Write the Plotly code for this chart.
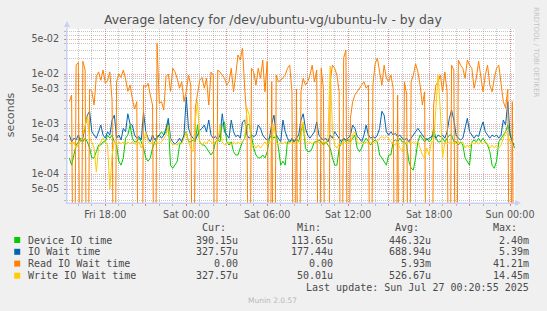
import plotly.graph_objects as go
from datetime import datetime, timedelta

# ---------------- data (seconds, 10-minute samples) ----------------
START = datetime(2025, 7, 25, 15, 20)
STEP_MINUTES = 10

device_io_time = [
    2.1e-4, 1.5e-4, 2.4e-4, 3.8e-4, 4.4e-4, 5.2e-4, 4.4e-4, 5.2e-4, 4.4e-4, 3.3e-4,
    2.1e-4, 2.1e-4, 2.8e-4, 3.8e-4, 3.8e-4, 4.4e-4, 4.4e-4, 6.0e-4, 5.2e-4, 6.0e-4,
    4.4e-4, 3.8e-4, 1.8e-4, 1.5e-4, 2.1e-4, 5.2e-4, 6.0e-4, 9.5e-4, 5.2e-4, 4.4e-4,
    4.4e-4, 5.2e-4, 4.4e-4, 3.3e-4, 2.1e-4, 1.8e-4, 2.1e-4, 3.3e-4, 4.4e-4, 5.2e-4,
    6.0e-4, 7.0e-4, 6.0e-4, 7.0e-4, 1.1e-3, 1.5e-4, 1.3e-4, 1.5e-4, 1.8e-4, 3.8e-4,
    4.4e-4, 6.0e-4, 7.0e-4, 4.4e-4, 4.4e-4, 4.8e-4, 4.4e-4, 9.5e-4, 4.4e-4, 3.8e-4,
    3.8e-4, 3.3e-4, 2.8e-4, 2.4e-4, 2.8e-4, 4.4e-4, 4.8e-4, 4.4e-4, 1.0e-3, 1.1e-3,
    4.4e-4, 3.8e-4, 4.4e-4, 2.8e-4, 2.4e-4, 2.4e-4, 3.3e-4, 4.4e-4, 5.2e-4, 9.5e-4,
    1.0e-3, 6.0e-4, 3.3e-4, 2.4e-4, 2.1e-4, 2.1e-4, 2.4e-4, 2.1e-4, 2.8e-4, 5.2e-4,
    6.0e-4, 5.2e-4, 6.0e-4, 3.3e-4, 1.5e-4, 1.8e-4, 1.5e-4, 4.4e-4, 4.4e-4, 4.8e-4,
    4.4e-4, 5.2e-4, 4.4e-4, 7.0e-4, 1.0e-3, 3.3e-4, 2.8e-4, 2.8e-4, 3.3e-4, 4.4e-4,
    4.4e-4, 4.8e-4, 4.4e-4, 3.8e-4, 4.4e-4, 3.8e-4, 3.3e-4, 2.1e-4, 1.5e-4, 1.5e-4,
    3.3e-4, 4.4e-4, 5.2e-4, 4.4e-4, 4.8e-4, 4.4e-4, 5.2e-4, 6.0e-4, 3.3e-4, 2.8e-4,
    3.3e-4, 4.4e-4, 5.2e-4, 4.4e-4, 3.8e-4, 4.4e-4, 4.8e-4, 4.4e-4, 2.4e-4, 2.1e-4,
    1.8e-4, 1.5e-4, 2.4e-4, 2.4e-4, 4.4e-4, 4.8e-4, 4.4e-4, 5.2e-4, 4.4e-4, 4.4e-4,
    3.8e-4, 1.8e-4, 1.3e-4, 1.2e-4, 2.1e-4, 4.4e-4, 6.0e-4, 5.2e-4, 4.4e-4, 5.2e-4,
    4.4e-4, 4.8e-4, 8.2e-4, 5.2e-4, 4.4e-4, 4.4e-4, 5.2e-4, 4.4e-4, 5.2e-4, 6.0e-4,
    6.0e-4, 4.4e-4, 4.4e-4, 3.8e-4, 4.4e-4, 3.8e-4, 2.1e-4, 1.8e-4, 1.5e-4, 4.4e-4,
    4.8e-4, 4.4e-4, 5.2e-4, 4.4e-4, 5.2e-4, 4.4e-4, 3.8e-4, 2.8e-4, 1.5e-4, 1.3e-4,
    1.8e-4, 4.4e-4, 5.2e-4, 6.0e-4, 7.0e-4, 9.5e-4, 6.0e-4, 4.4e-4, 3.9015e-4,
]

io_wait_time = [
    6.0e-4, 4.4e-4, 5.2e-4, 4.8e-4, 6.0e-4, 4.4e-4, 5.2e-4, 8.2e-4, 1.5e-3, 1.8e-3,
    7.0e-4, 6.0e-4, 5.2e-4, 7.0e-4, 9.5e-4, 6.0e-4, 5.2e-4, 7.0e-4, 6.0e-4, 1.2e-3,
    1.5e-3, 5.2e-4, 6.0e-4, 4.8e-4, 8.2e-4, 7.0e-4, 1.6e-3, 1.0e-3, 9.5e-4, 6.0e-4,
    5.2e-4, 5.6e-4, 4.8e-4, 1.7e-3, 7.0e-4, 5.2e-4, 4.4e-4, 6.0e-4, 4.8e-4, 5.6e-4,
    6.0e-4, 5.2e-4, 6.0e-4, 8.2e-4, 1.3e-3, 5.2e-4, 4.4e-4, 4.0e-4, 4.4e-4, 5.2e-4,
    4.4e-4, 6.0e-4, 3.5e-3, 8.2e-4, 6.0e-4, 5.2e-4, 4.8e-4, 6.0e-4, 7.5e-4, 8.2e-4,
    9.5e-4, 7.0e-4, 1.2e-3, 6.0e-4, 5.2e-4, 5.6e-4, 4.8e-4, 6.0e-4, 1.6e-3, 7.0e-4,
    6.0e-4, 5.2e-4, 1.2e-3, 7.0e-4, 5.6e-4, 6.0e-4, 5.2e-4, 1.1e-3, 1.2e-3, 6.0e-4,
    5.2e-4, 6.0e-4, 5.6e-4, 6.0e-4, 9.5e-4, 8.2e-4, 6.0e-4, 5.2e-4, 4.8e-4, 5.2e-4,
    1.0e-3, 1.5e-3, 6.0e-4, 5.2e-4, 4.4e-4, 1.2e-3, 7.0e-4, 5.2e-4, 4.4e-4, 5.2e-4,
    4.4e-4, 5.2e-4, 6.0e-4, 1.2e-3, 1.6e-3, 8.2e-4, 6.0e-4, 5.2e-4, 6.0e-4, 7.0e-4,
    1.1e-3, 6.0e-4, 5.2e-4, 4.8e-4, 5.2e-4, 4.4e-4, 6.0e-4, 5.2e-4, 7.0e-4, 6.0e-4,
    5.2e-4, 4.4e-4, 5.2e-4, 4.8e-4, 5.2e-4, 6.0e-4, 9.5e-4, 8.2e-4, 5.6e-4, 5.2e-4,
    4.4e-4, 6.0e-4, 9.5e-4, 6.0e-4, 5.2e-4, 5.6e-4, 5.2e-4, 6.0e-4, 8.2e-4, 1.8e-3,
    1.5e-3, 7.0e-4, 6.0e-4, 7.0e-4, 6.0e-4, 6.5e-4, 5.6e-4, 6.0e-4, 5.2e-4, 4.8e-4,
    5.2e-4, 4.4e-4, 5.2e-4, 6.0e-4, 7.0e-4, 8.2e-4, 7.0e-4, 6.0e-4, 5.2e-4, 4.8e-4,
    5.2e-4, 5.6e-4, 6.0e-4, 5.2e-4, 6.0e-4, 5.6e-4, 6.0e-4, 5.2e-4, 7.0e-4, 1.3e-3,
    1.9e-3, 1.2e-3, 6.0e-4, 5.2e-4, 4.8e-4, 5.2e-4, 8.2e-4, 1.3e-3, 7.0e-4, 6.0e-4,
    5.2e-4, 6.0e-4, 5.6e-4, 8.2e-4, 1.1e-3, 7.0e-4, 6.0e-4, 5.2e-4, 6.0e-4, 5.6e-4,
    6.0e-4, 5.2e-4, 6.0e-4, 1.2e-3, 9.5e-4, 2.8e-3, 6.0e-4, 4.4e-4, 3.2757e-4,
]

read_io_wait_time = [
    2.8e-3, 3.8e-3, 0, 1.5e-2, 1.7e-2, 0, 1.8e-2, 1.2e-2, 0, 5.0e-3,
    4.5e-3, 2.4e-3, 9.0e-3, 1.1e-2, 7.5e-3, 1.2e-2, 6.5e-3, 7.5e-3, 1.1e-2, 3.0e-3,
    0, 7.0e-3, 1.0e-2, 8.5e-3, 1.2e-2, 8.0e-3, 4.5e-3, 6.0e-3, 3.2e-3, 2.0e-3,
    2.8e-3, 0, 0, 6.0e-3, 5.5e-3, 6.5e-3, 3.8e-3, 2.4e-3, 0, 4.121e-2,
    2.6e-3, 2.8e-3, 1.9e-3, 9.0e-3, 1.0e-2, 4.5e-3, 1.3e-2, 1.1e-2, 8.0e-3, 5.2e-3,
    7.0e-3, 2.8e-3, 4.5e-3, 9.5e-3, 6.0e-3, 0, 2.1e-3, 4.4e-3, 7.5e-3, 8.5e-3,
    5.2e-3, 8.2e-3, 2.4e-3, 1.1e-2, 9.5e-3, 0, 1.2e-2, 1.1e-2, 9.5e-3, 8.2e-3,
    6.0e-3, 7.0e-3, 1.3e-2, 4.4e-3, 9.5e-3, 2.4e-2, 1.9e-2, 3.3e-2, 5.0e-3, 1.2e-3,
    0, 1.3e-2, 1.1e-2, 6.0e-3, 1.3e-2, 8.2e-3, 1.9e-2, 4.4e-3, 1.8e-2, 0,
    7.0e-3, 0, 9.5e-3, 7.0e-3, 7.5e-3, 8.5e-3, 9.5e-3, 1.3e-2, 1.5e-2, 4.4e-3,
    0, 5.0e-3, 0, 4.4e-3, 8.2e-3, 6.0e-3, 7.0e-3, 9.5e-3, 1.5e-2, 7.0e-3,
    1.2e-2, 0, 1.3e-2, 5.0e-3, 0, 0, 7.0e-3, 1.5e-2, 1.3e-2, 9.5e-3,
    4.4e-3, 0, 2.1e-2, 3.0e-2, 0, 1.3e-3, 2.8e-3, 3.8e-3, 4.4e-3, 5.2e-3,
    6.0e-3, 7.0e-3, 5.2e-3, 6.0e-3, 0, 6.0e-3, 1.6e-2, 2.1e-2, 1.1e-2, 6.0e-3,
    1.5e-2, 8.2e-3, 7.0e-3, 9.5e-3, 5.2e-3, 0, 3.8e-3, 0, 0, 7.0e-3,
    4.0e-3, 0, 7.0e-3, 9.5e-3, 1.6e-2, 1.1e-2, 6.0e-3, 2.4e-3, 4.4e-3, 0,
    0, 0, 2.4e-3, 6.0e-3, 7.0e-3, 9.5e-3, 4.4e-3, 1.1e-2, 4.4e-3, 0,
    1.5e-2, 1.2e-2, 0, 1.9e-2, 1.5e-2, 1.3e-2, 8.2e-3, 1.9e-2, 1.5e-2, 1.3e-2,
    5.2e-3, 8.2e-3, 1.8e-2, 9.5e-3, 4.4e-3, 9.5e-3, 1.5e-2, 6.0e-3, 4.4e-3, 8.2e-3,
    1.3e-2, 1.5e-2, 6.0e-3, 2.8e-3, 2.1e-3, 5.0e-3, 0, 2.8e-3, 0,
]

write_io_wait_time = [
    4.4e-4, 3.8e-4, 4.4e-4, 3.3e-4, 4.0e-4, 4.4e-4, 6.0e-4, 9.5e-4, 1.4e-3, 5.2e-4,
    4.4e-4, 3.3e-4, 1.1e-4, 3.3e-4, 4.4e-4, 5.2e-4, 4.4e-4, 3.8e-4, 5.0e-5, 2.4e-4,
    4.4e-4, 3.8e-4, 4.4e-4, 4.0e-4, 4.4e-4, 3.8e-4, 4.4e-4, 4.0e-4, 4.4e-4, 4.0e-4,
    3.8e-4, 4.4e-4, 3.3e-4, 4.4e-4, 7.0e-4, 4.4e-4, 4.0e-4, 4.4e-4, 3.8e-4, 4.4e-4,
    4.0e-4, 4.4e-4, 5.2e-4, 6.0e-4, 9.5e-4, 4.4e-4, 3.8e-4, 4.0e-4, 3.8e-4, 4.4e-4,
    4.0e-4, 5.2e-4, 7.0e-4, 4.4e-4, 3.3e-4, 2.8e-4, 1.2e-3, 2.8e-3, 4.4e-4, 3.8e-4,
    4.4e-4, 4.0e-4, 4.8e-4, 4.4e-4, 4.0e-4, 4.4e-4, 4.4e-4, 9.5e-4, 4.4e-4, 3.8e-4,
    4.0e-4, 4.4e-4, 3.8e-4, 4.4e-4, 4.0e-4, 4.4e-4, 4.0e-4, 4.4e-4, 5.2e-4, 2.1e-3,
    1.5e-3, 3.3e-4, 3.8e-4, 3.3e-4, 3.8e-4, 3.3e-4, 3.8e-4, 4.4e-4, 3.8e-4, 4.4e-4,
    4.4e-4, 9.5e-4, 4.4e-4, 3.8e-4, 4.4e-4, 4.0e-4, 4.4e-4, 3.8e-4, 4.4e-4, 4.0e-4,
    4.4e-4, 3.8e-4, 4.4e-4, 5.2e-4, 1.1e-3, 4.4e-4, 4.0e-4, 4.4e-4, 4.0e-4, 4.4e-4,
    4.0e-4, 4.4e-4, 4.0e-4, 4.4e-4, 4.0e-4, 5.2e-4, 1.445e-2, 8.0e-4, 3.8e-4, 3.3e-4,
    4.0e-4, 3.8e-4, 4.4e-4, 4.0e-4, 4.4e-4, 4.0e-4, 6.0e-4, 7.0e-4, 4.4e-4, 4.0e-4,
    4.4e-4, 4.0e-4, 4.4e-4, 4.0e-4, 4.4e-4, 4.0e-4, 4.4e-4, 4.4e-4, 5.2e-4, 5.6e-4,
    5.2e-4, 5.6e-4, 5.2e-4, 4.4e-4, 4.0e-4, 3.8e-4, 4.4e-4, 3.3e-4, 2.8e-4, 4.4e-4,
    4.0e-4, 4.4e-4, 4.0e-4, 4.4e-4, 4.0e-4, 4.4e-4, 3.3e-4, 2.4e-4, 2.1e-4, 3.3e-4,
    2.4e-4, 4.4e-4, 4.4e-4, 1.9e-3, 9.5e-3, 1.8e-3, 2.1e-4, 4.4e-4, 4.0e-4, 4.4e-4,
    4.0e-4, 4.4e-4, 4.0e-4, 4.4e-4, 4.0e-4, 4.4e-4, 3.3e-4, 3.8e-4, 3.3e-4, 4.4e-4,
    4.0e-4, 4.4e-4, 4.0e-4, 4.4e-4, 4.0e-4, 4.4e-4, 4.0e-4, 3.3e-4, 3.8e-4, 3.3e-4,
    3.8e-4, 3.3e-4, 3.8e-4, 5.2e-4, 7.0e-4, 6.0e-4, 4.4e-4, 3.8e-4, 3.2757e-4,
]

series_names = ["Device IO time", "IO Wait time", "Read IO Wait time", "Write IO Wait time"]
series_colors = ["#00CC00", "#0066B3", "#FF8000", "#FFCC00"]
cur_text = ["390.15u", "327.57u", "0.00", "327.57u"]
min_text = ["113.65u", "177.44u", "0.00", "50.01u"]
avg_text = ["446.32u", "688.94u", "5.93m", "526.67u"]
max_text = ["2.40m", "5.39m", "41.21m", "14.45m"]

y_tick_vals = [5e-2, 1e-2, 5e-3, 1e-3, 5e-4, 1e-4, 5e-5]
y_tick_text = ["5e-02", "1e-02", "5e-03", "1e-03", "5e-04", "1e-04", "5e-05"]

x_tick_times = ["2025-07-25 18:00", "2025-07-25 21:00", "2025-07-26 00:00",
                "2025-07-26 03:00", "2025-07-26 06:00", "2025-07-26 09:00",
                "2025-07-26 12:00", "2025-07-26 15:00", "2025-07-26 18:00",
                "2025-07-26 21:00", "2025-07-27 00:00"]
x_tick_text = ["Fri 18:00", "", "Sat 00:00", "", "Sat 06:00", "",
               "Sat 12:00", "", "Sat 18:00", "", "Sun 00:00"]

# ---------------- geometry helpers (pixel -> paper) ----------------
W, H = 547, 311
PL, PR, PT, PB = 67, 517, 29, 203


def px(x):
    return (x - PL) / (PR - PL)


def py(y):
    return (PB - y) / (PB - PT)


times = [START + timedelta(minutes=STEP_MINUTES * i) for i in range(len(device_io_time))]
LOG_FLOOR = 1e-9  # zero values are drawn down to the bottom edge (like rrdtool on log scale)

fig = go.Figure()
for name, color, vals in zip(series_names, series_colors,
                             [device_io_time, io_wait_time, read_io_wait_time, write_io_wait_time]):
    fig.add_trace(go.Scatter(
        x=times, y=[v if v > 0 else LOG_FLOOR for v in vals],
        mode="lines", name=name,
        line=dict(color=color, width=1),
        hoverinfo="skip",
    ))

minor_y = [m * 10.0 ** e for e in range(-5, -1) for m in range(2, 10)
           if not any(abs(m * 10.0 ** e - t) / t < 1e-6 for t in y_tick_vals)]

GRID_MINOR = "rgba(150,150,150,0.55)"
GRID_MAJOR = "rgba(225,110,110,0.6)"
AXIS_COLOR = "#C8D0F4"
TXT = "#555555"

fig.update_layout(
    width=W, height=H,
    margin=dict(l=PL, r=W - PR, t=PT, b=H - PB, pad=0),
    paper_bgcolor="#F0F0F0", plot_bgcolor="#FFFFFF",
    showlegend=False,
    font=dict(family="DejaVu Sans", size=10, color=TXT),
    xaxis=dict(
        type="date",
        range=[datetime(2025, 7, 25, 15, 9, 30), datetime(2025, 7, 27, 0, 22)],
        tickmode="array", tickvals=x_tick_times, ticktext=x_tick_text,
        showgrid=True, gridcolor=GRID_MAJOR, griddash="1px,1px", gridwidth=1,
        minor=dict(dtick=3600000, showgrid=True, gridcolor=GRID_MINOR,
                   griddash="1px,1px", ticks="outside", ticklen=2, tickcolor="#bbbbbb"),
        ticks="outside", ticklen=2, tickcolor="#e08080",
        showline=True, linecolor=AXIS_COLOR, linewidth=1,
        zeroline=False,
        tickfont=dict(family="DejaVu Sans", size=9.6, color=TXT),
        fixedrange=True,
    ),
    yaxis=dict(
        type="log", range=[-4.58, -1.1],
        tickmode="array", tickvals=y_tick_vals, ticktext=y_tick_text,
        showgrid=True, gridcolor=GRID_MAJOR, griddash="1px,1px", gridwidth=1,
        minor=dict(tickmode="array", tickvals=minor_y, showgrid=True,
                   gridcolor=GRID_MINOR, griddash="1px,1px",
                   ticks="outside", ticklen=2, tickcolor="#bbbbbb"),
        ticks="outside", ticklen=2, tickcolor="#e08080",
        showline=True, linecolor=AXIS_COLOR, linewidth=1,
        zeroline=False,
        tickfont=dict(family="DejaVu Sans", size=9.6, color=TXT),
        ticklabelstandoff=3,
        fixedrange=True,
    ),
)

shapes = []
# axis arrows
shapes.append(dict(type="path", xref="paper", yref="paper",
                   path=f"M {px(64)} {py(27)} L {px(70)} {py(27)} L {px(67)} {py(21)} Z",
                   fillcolor=AXIS_COLOR, line=dict(width=0)))
shapes.append(dict(type="line", xref="paper", yref="paper",
                   x0=px(67), x1=px(67), y0=py(203), y1=py(26),
                   line=dict(color=AXIS_COLOR, width=1)))
shapes.append(dict(type="line", xref="paper", yref="paper",
                   x0=px(67), x1=px(519), y0=py(203), y1=py(203),
                   line=dict(color=AXIS_COLOR, width=1)))
shapes.append(dict(type="path", xref="paper", yref="paper",
                   path=f"M {px(517)} {py(200)} L {px(517)} {py(206)} L {px(523)} {py(203)} Z",
                   fillcolor=AXIS_COLOR, line=dict(width=0)))

annotations = []
annotations.append(dict(text="Average latency for /dev/ubuntu-vg/ubuntu-lv - by day",
                        xref="paper", yref="paper", x=px(273.5), y=py(19.5),
                        xanchor="center", yanchor="middle", showarrow=False,
                        font=dict(family="DejaVu Sans", size=12.4, color="#505050")))
annotations.append(dict(text="seconds", xref="paper", yref="paper",
                        x=px(11), y=py(115), textangle=-90,
                        xanchor="center", yanchor="middle", showarrow=False,
                        font=dict(family="DejaVu Sans", size=10.9, color=TXT)))
annotations.append(dict(text="RRDTOOL / TOBI OETIKER", xref="paper", yref="paper",
                        x=px(538), y=py(52), textangle=90,
                        xanchor="center", yanchor="middle", showarrow=False,
                        font=dict(family="DejaVu Sans", size=7, color="#C4C4C4")))

MONO = dict(family="DejaVu Sans Mono", size=10, color="#4A4A4A")
headers = ["Cur:", "Min:", "Avg:", "Max:"]
header_right = [228.5, 324.5, 422.7, 520.7]
value_right = [240.5, 336.5, 434.3, 533.0]
HEADER_Y = 227.5
ROW_Y = [240.0, 251.8, 263.6, 275.7]

for h, xr in zip(headers, header_right):
    annotations.append(dict(text=h, xref="paper", yref="paper", x=px(xr), y=py(HEADER_Y),
                            xanchor="right", yanchor="middle", showarrow=False, font=MONO))

for k, (name, color) in enumerate(zip(series_names, series_colors)):
    yc = ROW_Y[k]
    shapes.append(dict(type="rect", xref="paper", yref="paper",
                       x0=px(14), x1=px(20), y0=py(yc + 3), y1=py(yc - 3),
                       fillcolor=color, line=dict(width=0)))
    annotations.append(dict(text=name, xref="paper", yref="paper", x=px(26), y=py(yc),
                            xanchor="left", yanchor="middle", showarrow=False, font=MONO))
    for col, xr in zip([cur_text, min_text, avg_text, max_text], value_right):
        annotations.append(dict(text=col[k], xref="paper", yref="paper", x=px(xr), y=py(yc),
                                xanchor="right", yanchor="middle", showarrow=False, font=MONO))

annotations.append(dict(text="Last update: Sun Jul 27 00:20:55 2025", xref="paper", yref="paper",
                        x=px(533), y=py(287.8), xanchor="right", yanchor="middle",
                        showarrow=False, font=MONO))
annotations.append(dict(text="Munin 2.0.57", xref="paper", yref="paper",
                        x=px(273), y=py(300), xanchor="center", yanchor="middle",
                        showarrow=False, font=dict(family="DejaVu Sans", size=7.5, color="#B8B8B8")))

fig.update_layout(shapes=shapes, annotations=annotations)
fig.write_html("out.html", config={"displayModeBar": False})
